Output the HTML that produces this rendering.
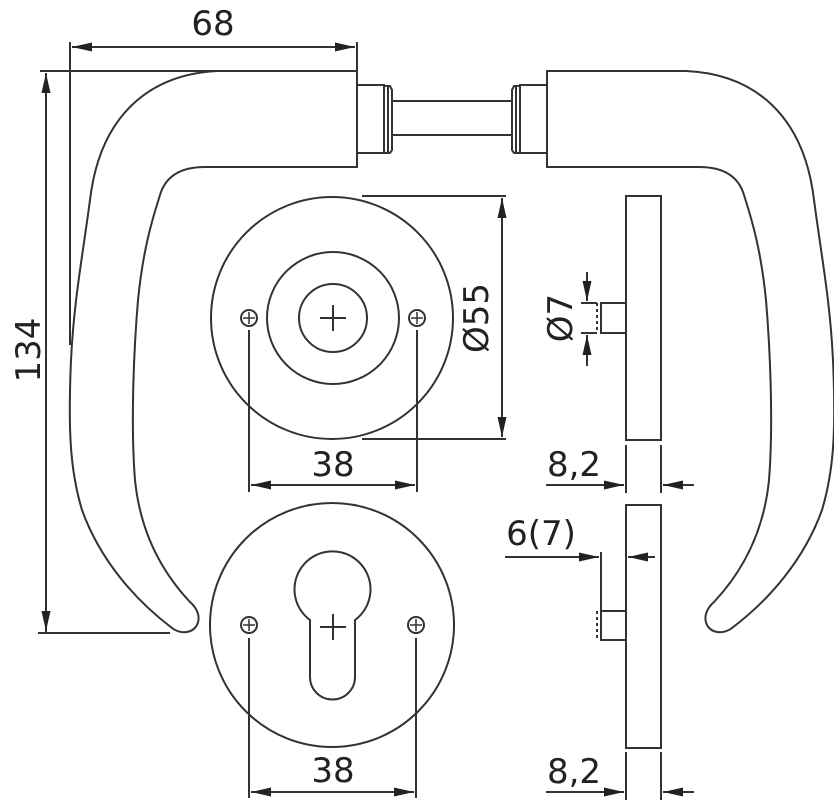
<!DOCTYPE html>
<html><head><style>html,body{margin:0;padding:0;background:#fff;}svg{display:block}</style></head>
<body>
<svg width="834" height="800" viewBox="0 0 834 800" xmlns="http://www.w3.org/2000/svg" font-family="'DejaVu Sans', 'Liberation Sans', sans-serif">
<defs>
<marker id="a" viewBox="0 0 20 10" refX="20" refY="5" markerWidth="20" markerHeight="10" markerUnits="userSpaceOnUse" orient="auto-start-reverse"><path d="M0,0.5 L20,5 L0,9.5 z" fill="#222"/></marker>
<g id="handle" fill="none" stroke="#333" stroke-width="2">
<path d="M357,71 L218,71 C150,74 100,115 90,200 C82,260 74,300 71,360 C68,430 70,470 82,510 C100,560 135,600 172,628 C180,634 192,634 197,625 C201,617 197,608 190,602 C160,570 140,530 135,480 C131,430 133,360 138,300 C143,250 152,220 160,195 C165,178 178,167 205,167 L357,167 Z"/>
<path d="M357,85 L384,85 L384,153 L357,153 M384,86 L390,86 L392,90 L392,150 L390,153 L384,153 M388,86 L388,153"/>
</g>
</defs>
<g stroke="#333" stroke-width="2" fill="none">
<line x1="70" y1="42" x2="70" y2="345"/>
<line x1="357" y1="42" x2="357" y2="71"/>
<line x1="72" y1="47" x2="355" y2="47" marker-start="url(#a)" marker-end="url(#a)"/>
<line x1="40" y1="71" x2="357" y2="71"/>
<line x1="38" y1="633" x2="170" y2="633"/>
<line x1="46" y1="633" x2="46" y2="73" marker-end="url(#a)"/>
<line x1="46" y1="300" x2="46" y2="631" marker-end="url(#a)"/>
</g>
<use href="#handle"/>
<use href="#handle" transform="translate(904,0) scale(-1,1)"/>
<g stroke="#333" stroke-width="2" fill="none">
<line x1="393" y1="101" x2="511" y2="101"/>
<line x1="393" y1="135" x2="511" y2="135"/>
<circle cx="332" cy="318" r="121" fill="#fff"/>
<circle cx="333" cy="318" r="66"/>
<circle cx="333" cy="318" r="34"/>
<path d="M320,318 H346 M333,305 V331"/>
<circle cx="249" cy="318" r="8"/><path d="M243,318 H255 M249,312 V324" stroke-width="1.5"/>
<circle cx="417" cy="318" r="8"/><path d="M411,318 H423 M417,312 V324" stroke-width="1.5"/>
<line x1="249" y1="330" x2="249" y2="492"/>
<line x1="417" y1="330" x2="417" y2="492"/>
<line x1="251" y1="485" x2="415" y2="485" marker-start="url(#a)" marker-end="url(#a)"/>
<line x1="362" y1="196" x2="506" y2="196"/>
<line x1="362" y1="439" x2="506" y2="439"/>
<line x1="502" y1="198" x2="502" y2="437" marker-start="url(#a)" marker-end="url(#a)"/>
<circle cx="332" cy="625" r="122" fill="#fff"/>
<path d="M310,620 A38,38 0 1 1 355,620 L355,677 A22.5,22.5 0 0 1 310,677 Z"/>
<path d="M320,627 H346 M333,614 V640"/>
<circle cx="249" cy="625" r="8"/><path d="M243,625 H255 M249,619 V631" stroke-width="1.5"/>
<circle cx="416" cy="625" r="8"/><path d="M410,625 H422 M416,619 V631" stroke-width="1.5"/>
<line x1="249" y1="638" x2="249" y2="798"/>
<line x1="416" y1="638" x2="416" y2="798"/>
<line x1="251" y1="792" x2="414" y2="792" marker-start="url(#a)" marker-end="url(#a)"/>
<rect x="626" y="196" width="35" height="244" fill="#fff"/>
<path d="M626,303 H601 V333 H626"/>
<line x1="597" y1="303" x2="597" y2="333" stroke-dasharray="3,3"/>
<line x1="597" y1="303" x2="581" y2="303"/><line x1="597" y1="333" x2="581" y2="333"/>
<line x1="587" y1="272" x2="587" y2="301" marker-end="url(#a)"/>
<line x1="587" y1="366" x2="587" y2="335" marker-end="url(#a)"/>
<line x1="626" y1="445" x2="626" y2="493"/><line x1="661" y1="445" x2="661" y2="493"/>
<line x1="546" y1="485" x2="624" y2="485" marker-end="url(#a)"/>
<line x1="694" y1="485" x2="663" y2="485" marker-end="url(#a)"/>
<rect x="626" y="505" width="35" height="243" fill="#fff"/>
<path d="M626,611 H601 V640 H626"/>
<line x1="597" y1="611" x2="597" y2="640" stroke-dasharray="3,3"/>
<line x1="601" y1="552" x2="601" y2="611"/>
<line x1="505" y1="557" x2="599" y2="557" marker-end="url(#a)"/>
<line x1="655" y1="557" x2="628" y2="557" marker-end="url(#a)"/>
<line x1="626" y1="752" x2="626" y2="800"/><line x1="661" y1="752" x2="661" y2="800"/>
<line x1="546" y1="792" x2="624" y2="792" marker-end="url(#a)"/>
<line x1="694" y1="792" x2="663" y2="792" marker-end="url(#a)"/>
</g>
<g fill="#222" font-size="34">
<text x="213" y="35" text-anchor="middle">68</text>
<text x="0" y="0" text-anchor="middle" transform="translate(40,350) rotate(-90)">134</text>
<text x="333" y="476" text-anchor="middle">38</text>
<text x="333" y="782" text-anchor="middle">38</text>
<text x="0" y="0" text-anchor="middle" transform="translate(488,318) rotate(-90)">Ø55</text>
<text x="0" y="0" text-anchor="middle" transform="translate(572,318) rotate(-90)">Ø7</text>
<text x="574" y="476" text-anchor="middle">8,2</text>
<text x="574" y="783" text-anchor="middle">8,2</text>
<text x="541" y="545" text-anchor="middle">6(7)</text>
</g>
</svg>
</body></html>
